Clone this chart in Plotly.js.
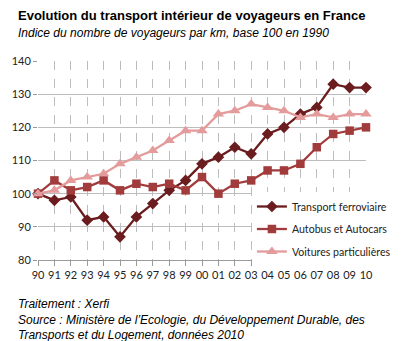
<!DOCTYPE html>
<html>
<head>
<meta charset="utf-8">
<script src="https://cdn.plot.ly/plotly-3.0.1.min.js"></script>
<style>html,body{margin:0;padding:0;background:#fff;}#chart{width:408px;height:341px;}</style>
</head>
<body>
<div id="chart"></div>
<script>
var years = ['90','91','92','93','94','95','96','97','98','99','00','01','02','03','04','05','06','07','08','09','10'];
var rail = [100,98,99,92,93,87,93,97,101,104,109,111,114,112,118,120,124,126,133,132,132];
var bus = [100,104,101,102,104,101,103,102,103,101,105,100,103,104,107,107,109,114,118,119,120];
var cars = [100,101,104,105,106,109,111,113,116,119,119,124,125,127,126,125,123,124,123,124,124];
var seriesNames = ['Transport ferroviaire','Autobus et Autocars','Voitures particulières'];
var yTicks = [80,90,100,110,120,130,140];

var L = 38, R = 25, T = 61, B = 81, W = 408, H = 341;
var pw = W - L - R, ph = H - T - B;
function px(x){ return (x - L) / pw; }
function py(y){ return (H - B - y) / ph; }

var traces = [
  {x: years, y: rail, name: seriesNames[0], legendgroup: 'a', type: 'scatter', mode: 'lines+markers', cliponaxis: false,
   line: {color: '#6B1C1E', width: 2.3}, marker: {symbol: 'diamond', size: 9, color: '#6B1C1E'}},
  {x: years, y: bus, name: seriesNames[1], legendgroup: 'b', type: 'scatter', mode: 'lines+markers', cliponaxis: false,
   line: {color: '#A23B3C', width: 2.3}, marker: {symbol: 'square', size: 8.5, color: '#A23B3C'}},
  {x: years, y: cars, name: seriesNames[2], legendgroup: 'c', type: 'scatter', mode: 'lines+markers', cliponaxis: false,
   line: {color: '#E49B9B', width: 2.3}, marker: {symbol: 'triangle-up', size: 10, color: '#E49B9B'}}
];

var tf = {family: 'Lato, Carlito, sans-serif', size: 11, color: '#222'};
var ital = {family: 'Liberation Sans, Arial, sans-serif', size: 12, color: '#000'};
var layout = {
  width: W, height: H,
  margin: {l: L, r: R, t: T, b: B, pad: 0},
  paper_bgcolor: '#fff', plot_bgcolor: '#fff',
  showlegend: true,
  legend: {x: px(263), y: py(192), xanchor: 'left', yanchor: 'top', bgcolor: 'rgba(255,255,255,1)',
           font: {family: 'Lato, Carlito, sans-serif', size: 10.6, color: '#222'}, tracegroupgap: 3.5,
           itemwidth: 30},
  xaxis: {type: 'category', range: [0, 20], tickangle: 0, showgrid: true, gridcolor: '#BDBDBD', griddash: 'dash', gridwidth: 1,
          showline: true, linecolor: '#9A9A9A', linewidth: 1, ticks: 'outside', ticklen: 5, tickcolor: '#9A9A9A',
          tickfont: tf, zeroline: false, fixedrange: true},
  yaxis: {range: [80, 140], tickvals: yTicks, showgrid: true, gridcolor: '#BDBDBD', gridwidth: 1,
          showline: false, ticks: 'outside', ticklen: 4, tickcolor: '#9A9A9A', zeroline: false,
          tickfont: tf, fixedrange: true},
  annotations: [
    {xref: 'paper', yref: 'paper', x: px(15), y: py(6), xanchor: 'left', yanchor: 'top', showarrow: false,
     text: '<b>Evolution du transport intérieur de voyageurs en France</b>',
     font: {family: 'Liberation Sans, Arial, sans-serif', size: 13, color: '#000'}},
    {xref: 'paper', yref: 'paper', x: px(15), y: py(24), xanchor: 'left', yanchor: 'top', showarrow: false,
     text: '<i>Indice du nombre de voyageurs par km, base 100 en 1990</i>', font: ital},
    {xref: 'paper', yref: 'paper', x: px(15), y: py(295), xanchor: 'left', yanchor: 'top', showarrow: false, align: 'left',
     text: '<i>Traitement : Xerfi<br>Source : Ministère de l\u2019Ecologie, du Développement Durable, des<br>Transports et du Logement, données 2010</i>',
     font: ital}
  ]
};
Plotly.newPlot('chart', traces, layout, {displayModeBar: false, staticPlot: true});
</script>
</body>
</html>
